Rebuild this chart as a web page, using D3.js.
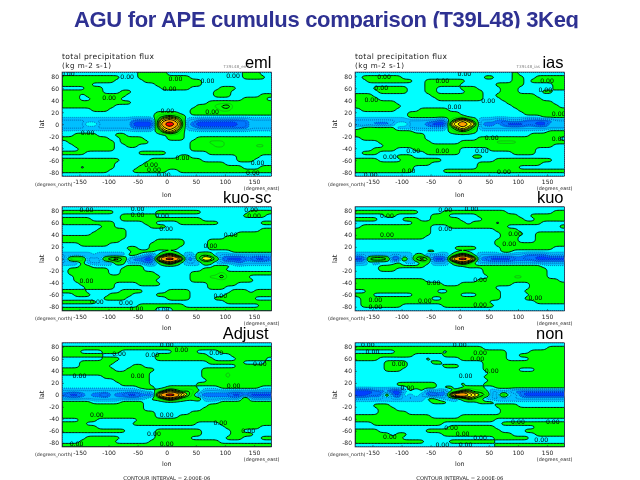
<!DOCTYPE html>
<html><head><meta charset="utf-8">
<script src="https://cdn.jsdelivr.net/npm/d3@7"></script>
<style>
html,body{margin:0;padding:0;background:#fff;overflow:hidden}
svg{display:block;filter:blur(0.35px)}
text{font-family:"DejaVu Sans",sans-serif}
</style></head><body><div id="c"></div>
<script>
const pageTitle="AGU for APE cumulus comparison (T39L48) 3Keq";
const fieldTitle="total precipitation flux";
const fieldUnits="(kg m-2 s-1)";
const lonTicks=[-150,-100,-50,0,50,100,150];
const latTicks=[-80,-60,-40,-20,0,20,40,60,80];
const contourNote="CONTOUR INTERVAL = 2.000E-06";
const runNames=["eml","ias","kuo-sc","kuo","Adjust","non"];
// one row per latitude (84N to 84S, 6 degree steps), one character per longitude (10 degree steps).
const eml=[
"333333333333344444333333333333344433",
"444444444433344444444433333333344443",
"444444444333334444444444333333333333",
"444443333333333344444444333333333333",
"333344433333333334444433333444333333",
"444444433344333333333333334443333333",
"444344444443333333333333334443333344",
"444334444433333333333333333333344443",
"444444444444333333333333344444444444",
"444444444333333333333334445674444444",
"333334443333333333333344444554444444",
"333333333333333344443344444444444444",
"333333333333333356765333333333333333",
"222222222222111169b96221111111112222",
"222244222222000 07cfc7210000000112222".replace(" ",""),
"222222222222111169b96221111111112222",
"333333333333333347974333333333333333",
"334444333443333333444333333333333333",
"444444443344443333444334444444444444",
"344444444344444333333344455544444444",
"334444444334433333333344445544444554",
"333444444333333333333344444444444444",
"444433333333344444333333344444444444",
"333333333333333333334433333333444433",
"444444444433333444444444333333444333",
"444444444333334444444444444433333333",
"444344444333344444444444444444433344",
"444444443333444444334444444444444444",
"333333333333333333333333333333333333"];
const ias=[
"333333333333333333333333333433333333",
"344444443333333333333344333443344444",
"334444444433444444433333333443444444",
"333333333333444444333333444443333344",
"333444444333443333444333344433333344",
"333344444333443333344433344433334433",
"444333333333344444444433444444433333",
"444433333333334444444433344444443333",
"444444433333333333333333334444444433",
"444444443333333333333333333444444443",
"344444433334444433333333333344444444",
"333333333444444444333333333334444444",
"333333333444444444433333333333334444",
"222222222222221157a75222112221111122",
"21211124422210008aba8211210001100222",
"344444422222222257a75222222222222222",
"444444444433333345654333333333333444",
"444444444444333333333333333333444444",
"344444444444333333333444444444444443",
"333344444444433333444444555544444444",
"333334444444444444444444444444444433",
"333444433344444444333334444444433333",
"344433333333444444333333333444433333",
"333333344433333333334433333333333333",
"444433334444444333333333444444444433",
"444444444444433333333444444444443333",
"444444444433333333333444444433333333",
"444444444433333444444444444444444444",
"333333333333333333333333333333333333"];
const kuosc=[
"333333333333333333333333333333333333",
"444444444333333344444444333333334444",
"333333333344444433333333333333344443",
"444443333344444444444444333333333333",
"444444444333334433334444444333333344",
"333333344333333444333333333333333333",
"333333444443333333333333333333333344",
"333334444443333333333333333333444444",
"444444444443333333333333333344444444",
"444444444433333344444333344444444444",
"333444443333333444444333344444445444",
"333333333334433444443333344444444444",
"333333333333444433333333333334444444",
"222223222224432136963225652222222222",
"26762226886211009eee9116886100011001",
"222422222542221136963222542222122222",
"333443333334443333333333334443333333",
"344444443344443333333333444433333333",
"344444443344444433333344444544444444",
"334444444444444443333344455744443333",
"334444444444444433333344444444444333",
"333444444333344443333333344444333333",
"333344444333333333333333344433333333",
"444433333344443333444433333334443444",
"334443334444333344444433333344444444",
"333333344443333333444433334444444333",
"444444333333333333333333333344444444",
"333333333333344444444333333333333344",
"444444444444444433344444444444444444"];
const kuo=[
"333333333333333333333333333333333333",
"444444444443333444444444443333333344",
"333334433333344433333444444433444444",
"444433334443344444333344444443344444",
"333333333344444444434444344444443333",
"344444444444433344444444443333333334",
"444444444444433333333333444433333333",
"444444444444433333333333344443344444",
"444444444444333333333333344433344444",
"333333333333333333333333444433344444",
"333333333333333333333333444444444444",
"333333333333333334444333344444444433",
"333333333333443333333333344333333333",
"222222222244122236963222222221111222",
"00788700717870009eee9110000111100000",
"223222342224422236963222222222222222",
"333344444444333333344444444444443333",
"333344433333333333333344444444444333",
"333333333333333333333344444444444333",
"333333333333333333333334444554444333",
"444444444444333333333444444444444443",
"444444444444444333444444444333444444",
"444444444444444444444444333333444444",
"334444444444443344444444433334444444",
"444333333344444444333444433333444444",
"344444444444433444444444433334444444",
"344444444444444444444443333333344444",
"344444443333333444444444333333333333",
"333333333333333333333333333333333333"];
const adjust=[
"333333333333333333333333333333333333",
"444444444444444444444444444444444444",
"444333344433333333344443333444444444",
"444444433333333344444444433334444444",
"333333344433333344444444443333444443",
"333444444333333333333333344444433334",
"333444443333443333333333333333444444",
"444444444334444433333333444444444444",
"444444444444444333333333444454444444",
"333333344444444333333333444454444444",
"333333333444444333333333344444444444",
"333333333344444333333334444444444444",
"333333333333344433444443333444444433",
"222222222222223346975654222222222222",
"10012110211001109eee9741111110010000",
"222222222222223446975445222222262222",
"444443333344443333333333333444444444",
"444444444444443333333333344444444444",
"444444444444443333333333444444444444",
"444444444444444433333344445444444444",
"444444444444444433334444444544444444",
"333444333333344444444444444444444444",
"444433333333444444444443333444444444",
"444444333333333333333333333344444433",
"444444444443333344444444333334433333",
"333333333333333344444444333334444333",
"333344444433333344444433333344433344",
"333444444333333444444444444333333333",
"444444444444444444444444444444444444"];
const non=[
"333333333333333333333333333333333333",
"444444444444444444444433333333333444",
"333333344444444344444444443333444444",
"444444444433333444444444443344444444",
"444433333333433333444444443333444444",
"333334444333344333333344444444444444",
"333334444333333444333344444444444444",
"333334443333333333333344444433344444",
"333333333333333333333334444444444444",
"333333333333333333333344444444444444",
"333333333333333333333334444444444444",
"333333344444443333433344444444444444",
"333333333444443443344433444444444444",
"000111002424122134775542222111111111",
"00111610424210119eea8762273310000000",
"222222222222443222 47642222222222222".replace(" ",""),
"333333333333344433333444333333333333",
"333444333333333333333333444433333333",
"333344433333333333333333344444444444",
"333344444333333333333333344544444444",
"444444444444433333444444444444444444",
"444444444444444444444444333333333333",
"333444444444444333333333344444444444",
"333333333333333344444444333333344444",
"444433333333444444444444433334444444",
"444444344333333444444444444333344444",
"444444443333333333333333444444333333",
"444444444444333344444444333333333333",
"333333333333333333333333444444444444"];
// "0.00" contour labels [lon,lat] per run
const labelsEml=[[-68,79],[15,75],[70,72],[114,80],[5,59],[-99,44],[1,22],[78,21],[-136,-14],[-27,-68],[27,-56],[156,-64],[-22,-76],[-5,-84],[148,-82],[-170,84]];
const labelsIas=[[-130,79],[-135,61],[-152,40],[-30,72],[-9,29],[49,39],[150,72],[147,58],[170,18],[-80,-44],[-30,-44],[38,-44],[55,-23],[170,-24],[-120,-54],[-153,-84],[-88,-78],[76,-80],[8,84]];
const labelsKuosc=[[-138,81],[-50,84],[-50,74],[-8,72],[-1,50],[110,40],[75,22],[145,81],[150,71],[-138,-36],[-120,-72],[-70,-74],[-52,-84],[-7,-85],[92,-62]];
const labelsKuo=[[-125,72],[-125,40],[-25,50],[-25,81],[20,84],[95,42],[85,25],[-45,-40],[35,-35],[-145,-68],[-145,-80],[-60,-70],[35,-76],[130,-65]];
const labelsAdjust=[[-82,68],[-25,67],[25,75],[85,70],[160,52],[-50,32],[-150,32],[0,84],[115,15],[-120,-33],[0,-34],[92,-47],[-22,-65],[0,-82],[-155,-82],[140,-60]];
const labelsNon=[[-158,84],[0,84],[-150,72],[-105,51],[10,32],[55,40],[35,70],[30,60],[-90,12],[-120,-70],[5,-65],[35,-72],[100,-45],[160,-45],[-15,-55],[-30,-84],[10,-84],[140,-75]];
const fields=[eml,ias,kuosc,kuo,adjust,non];
const labelSets=[labelsEml,labelsIas,labelsKuosc,labelsKuo,labelsAdjust,labelsNon];

const fillBands=[[0,"#0040ff"],[0.7,"#0078ff"],[1.6,"#00bfff"],[2.8,"#00ffff"],[3.5,"#00ff00"],[6.5,"#ffff00"],[9.5,"#ffa000"],[12,"#ff0000"]];
const blackLevels=[3.5,5.6,6.5,7.2,8.2,9.5,12];
const greenLevels=[4.6];
const dashLevels=[0.7,1.2,1.6,2.2,2.8];

const lefts=[62,355,62,355,62,355], tops=[72,72,206.7,206.7,342.7,342.7];
const W=209.5,H=104.3,K=4;
const svg=d3.select("#c").append("svg").attr("width",640).attr("height",480);
const defs=svg.append("defs");
defs.append("clipPath").attr("id","tc").append("rect").attr("width",640).attr("height",28.3);
svg.append("g").attr("clip-path","url(#tc)").append("text").attr("x",74).attr("y",26.7)
  .attr("font-size",22).attr("font-weight","bold").attr("fill","#2e3192")
  .style("font-family","'Liberation Sans',Arial,sans-serif").attr("textLength",505).text(pageTitle);

runNames.forEach((name,i)=>{
  const L=lefts[i],T=tops[i];
  const g=svg.append("g").attr("transform",`translate(${L},${T})`);
  const x=d3.scaleLinear().domain([-180,180]).range([0,W]);
  const y=d3.scaleLinear().domain([87,-87]).range([0,H]);
  const rows=fields[i], nr=rows.length, nc=36, w=nc*K, h=nr*K;
  const vals=new Float64Array(w*h);
  for(let r=0;r<h;r++)for(let c=0;c<w;c++){
    const row=rows[Math.floor(r/K)];
    vals[r*w+c]=parseInt(row[Math.min(Math.floor(c/K),row.length-1)],16);
  }
  d3.blur2({data:vals,width:w,height:h},1.2);
  const px=d3.scaleLinear().domain([0,w]).range([-180,180]);
  const py=d3.scaleLinear().domain([0,h]).range([87,-87]);
  const path=d3.geoPath(d3.geoTransform({point(a,b){this.stream.point(x(px(a)),y(py(b)));}}));
  const contour=d3.contours().size([w,h]).smooth(true);
  const cid="pc"+i;
  defs.append("clipPath").attr("id",cid).append("rect").attr("width",W).attr("height",H);
  const plot=g.append("g").attr("clip-path",`url(#${cid})`);
  plot.append("rect").attr("width",W).attr("height",H).attr("fill",fillBands[0][1]);
  fillBands.slice(1).forEach(([t,col])=>{
    plot.append("path").attr("d",path(contour.contour(vals,t))).attr("fill",col);
  });
  dashLevels.forEach(t=>plot.append("path").attr("d",path(contour.contour(vals,t)))
    .attr("fill","none").attr("stroke","#00207a").attr("stroke-width",.55).attr("stroke-dasharray","1,1"));
  greenLevels.forEach(t=>plot.append("path").attr("d",path(contour.contour(vals,t)))
    .attr("fill","none").attr("stroke","#1c8a1c").attr("stroke-width",.5));
  blackLevels.forEach(t=>plot.append("path").attr("d",path(contour.contour(vals,t)))
    .attr("fill","none").attr("stroke","#000").attr("stroke-width",t===3.5?.9:1));
  plot.selectAll("text.lab").data(labelSets[i]).join("text").attr("class","lab")
    .attr("x",d=>x(d[0])).attr("y",d=>y(d[1])).attr("dy","0.35em").attr("text-anchor","middle")
    .attr("font-size",6.2).attr("fill","#000").text("0.00");
  g.append("rect").attr("width",W).attr("height",H).attr("fill","none").attr("stroke","#333").attr("stroke-width",.6);
  const ax=g.append("g").attr("transform",`translate(0,${H})`)
    .call(d3.axisBottom(x).tickValues(lonTicks).tickSize(-2).tickPadding(3.5).tickFormat(d=>d));
  const ay=g.append("g").call(d3.axisLeft(y).tickValues(latTicks).tickSize(-2).tickPadding(3).tickFormat(d=>d));
  [ax,ay].forEach(a=>{a.select(".domain").remove();a.selectAll("line").attr("stroke","#222").attr("stroke-width",.5);
    a.selectAll("text").attr("font-size",6).attr("fill","#222").style("font-family","'DejaVu Sans',sans-serif");});
  const small=(tx,ty,s,fs,anchor)=>g.append("text").attr("x",tx).attr("y",ty).attr("font-size",fs).attr("fill","#222")
    .attr("text-anchor",anchor||"start").text(s);
  if(i<2){
    small(0,-13.5,fieldTitle,7.6).attr("textLength",92);
    small(0,-4,fieldUnits,7.2).attr("textLength",49);
    small(W-48,-4,"T39L48_"+name,4.2).attr("fill","#888");
  }
  small(W/2,H+(i<2?21:19),"lon",6.4,"middle");
  small(-27,H+9.5,"(degrees_north)",4.7,"start");
  small(W+8,H+14,"(degrees_east)",4.8,"end");
  g.append("text").attr("transform",`translate(-18,${H/2}) rotate(-90)`).attr("text-anchor","middle")
    .attr("font-size",6.6).attr("fill","#222").text("lat");
  g.append("text").attr("x",W+(name==="Adjust"?-3:(i%2?-1:0))).attr("y",-4).attr("text-anchor","end").attr("font-size",16.5)
    .attr("fill","#000").style("font-family","'Liberation Sans',Arial,sans-serif").text(name);
  if(i>=4) small(W/2,H+32.6,contourNote,5.2,"middle");
});
</script></body></html>
